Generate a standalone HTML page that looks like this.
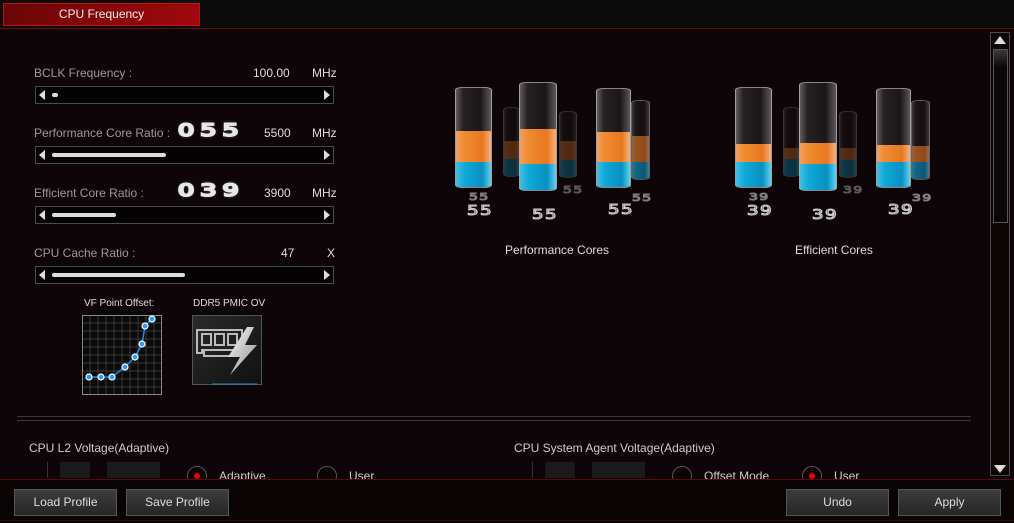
<!DOCTYPE html>
<html><head><meta charset="utf-8"><style>
*{margin:0;padding:0;box-sizing:border-box}
body{width:1014px;height:523px;background:#0d0507;position:relative;overflow:hidden;font-family:"Liberation Sans",Arial,sans-serif;color:#b8b8b8}
.a{position:absolute}
.t{position:absolute;font-size:12px;white-space:nowrap}
.sl{position:absolute;left:35px;width:299px;height:18px;border:1px solid #4a4a4a;background:#050203}
.sl .l{position:absolute;left:3px;top:3px;width:0;height:0;border-top:5px solid transparent;border-bottom:5px solid transparent;border-right:6px solid #ddd}
.sl .r{position:absolute;right:3px;top:3px;width:0;height:0;border-top:5px solid transparent;border-bottom:5px solid transparent;border-left:6px solid #ddd}
.sl .b{position:absolute;left:16px;top:6px;height:4px;background:#ddd;border-radius:2px}
.big{position:absolute;font-family:"DejaVu Sans",sans-serif;font-size:17px;color:#0d0507;-webkit-text-stroke:2px #e8e8e8;letter-spacing:4px;transform:scaleX(1.5);transform-origin:left;text-shadow:0 0 3px rgba(255,255,255,.6)}
.cyl{position:absolute;border-radius:7px/3px;background:linear-gradient(90deg,rgba(200,200,200,.45),rgba(90,90,90,.35) 20%,rgba(60,60,60,.3) 70%,rgba(190,190,190,.45));border:1px solid rgba(220,220,220,.55);overflow:hidden}
.cyl .o{position:absolute;left:0;right:0;background:linear-gradient(90deg,#f0a060,#f08a30 25%,#e87820 75%,#f4b080)}
.cyl .bl{position:absolute;left:0;right:0;bottom:0;background:linear-gradient(90deg,#40c0e0,#10a8d8 25%,#0890c0 75%,#60d0f0)}
.cyl.bk{opacity:.3}
.num{position:absolute;font-family:"DejaVu Sans",sans-serif;color:#0d0507;-webkit-text-stroke:1px #cfcfcf;letter-spacing:1px;transform:scaleX(1.4);transform-origin:left}
.btn{position:absolute;top:489px;height:27px;background:linear-gradient(#3c3c3c,#262626);border:1px solid #555;color:#ddd;font-size:12px;text-align:center;line-height:25px}
.rad{position:absolute;width:20px;height:20px;border-radius:50%;border:1px solid #555;background:#0a0405}
</style></head><body>
<div class="a" style="left:0;top:0;width:1014px;height:28px;background:#0b0b0b"></div>
<div class="a" style="left:3px;top:3px;width:197px;height:23px;background:linear-gradient(90deg,#6a0608,#a0080c);border:1px solid #c01010;color:#eee;font-size:12px;text-align:center;line-height:21px">CPU Frequency</div>
<div class="a" style="left:0;top:28px;width:1014px;height:1px;background:#6a0a0c"></div>

<div class="t" style="left:34px;top:66px;color:#999">BCLK Frequency :</div>
<div class="t" style="left:253px;top:66px;color:#ddd">100.00</div>
<div class="t" style="left:312px;top:66px;color:#ddd">MHz</div>
<div class="sl" style="top:86px"><div class="l"></div><div class="r"></div><div class="b" style="width:6px"></div></div>

<div class="t" style="left:34px;top:126px;color:#999">Performance Core Ratio :</div>
<div class="big" style="left:178px;top:121px">055</div>
<div class="t" style="left:264px;top:126px;color:#ddd">5500</div>
<div class="t" style="left:312px;top:126px;color:#ddd">MHz</div>
<div class="sl" style="top:146px"><div class="l"></div><div class="r"></div><div class="b" style="width:114px"></div></div>

<div class="t" style="left:34px;top:186px;color:#999">Efficient Core Ratio :</div>
<div class="big" style="left:178px;top:181px">039</div>
<div class="t" style="left:264px;top:186px;color:#ddd">3900</div>
<div class="t" style="left:312px;top:186px;color:#ddd">MHz</div>
<div class="sl" style="top:206px"><div class="l"></div><div class="r"></div><div class="b" style="width:64px"></div></div>

<div class="t" style="left:34px;top:246px;color:#999">CPU Cache Ratio :</div>
<div class="t" style="left:281px;top:246px;color:#ddd">47</div>
<div class="t" style="left:327px;top:246px;color:#ddd">X</div>
<div class="sl" style="top:266px"><div class="l"></div><div class="r"></div><div class="b" style="width:133px"></div></div>

<div class="t" style="left:84px;top:298px;font-size:10px;color:#ddd">VF Point Offset:</div>
<svg class="a" style="left:82px;top:315px" width="80" height="80">
<rect x="0.5" y="0.5" width="79" height="79" fill="#0a0a0a" stroke="#888"/>
<g stroke="#3a3a3a" stroke-width="1">
<path d="M8 1V79M16 1V79M24 1V79M32 1V79M40 1V79M48 1V79M56 1V79M64 1V79M72 1V79M1 8H79M1 16H79M1 24H79M1 32H79M1 40H79M1 48H79M1 56H79M1 64H79M1 72H79"/></g>
<polyline points="7,62 19,62 30,62 43,52 53,42 60,29 63,11 70,4" fill="none" stroke="#1a8ae8" stroke-width="1.5"/>
<g fill="#2a9cff" stroke="#fff" stroke-width="1.2">
<circle cx="7" cy="62" r="3"/><circle cx="19" cy="62" r="3"/><circle cx="30" cy="62" r="3"/><circle cx="43" cy="52" r="3"/><circle cx="53" cy="42" r="3"/><circle cx="60" cy="29" r="3"/><circle cx="63" cy="11" r="3"/><circle cx="70" cy="4" r="3"/></g></svg>

<div class="t" style="left:193px;top:298px;font-size:10px;color:#ddd">DDR5 PMIC OV</div>
<svg class="a" style="left:192px;top:315px" width="70" height="70">
<defs><linearGradient id="g" x1="0" y1="0" x2="1" y2="1"><stop offset="0" stop-color="#2a2a2a"/><stop offset="1" stop-color="#111"/></linearGradient>
<linearGradient id="bolt" x1="0" y1="0" x2="1" y2="1"><stop offset="0" stop-color="#fff"/><stop offset="1" stop-color="#888"/></linearGradient></defs>
<rect x="0.5" y="0.5" width="69" height="69" fill="url(#g)" stroke="#555"/>
<line x1="20" y1="69" x2="65" y2="69" stroke="#2a8ab0"/>
<g fill="none" stroke="#bbb" stroke-width="2"><path d="M5 15H50V35H10V38H5Z"/><rect x="10" y="19" width="9" height="11"/><rect x="23" y="19" width="9" height="11"/><rect x="36" y="19" width="9" height="11"/><path d="M12 35V41H40"/></g>
<path d="M55 12L36 42H48L38 60L65 30H53L62 12Z" fill="url(#bolt)"/></svg>

<!-- Performance cores -->
<div class="cyl bk" style="left:503px;top:107px;width:17px;height:70px"><div class="o" style="top:33px;bottom:17px"></div><div class="bl" style="height:17px"></div></div>
<div class="cyl bk" style="left:559px;top:111px;width:18px;height:67px"><div class="o" style="top:29px;bottom:17px"></div><div class="bl" style="height:17px"></div></div>
<div class="cyl" style="left:631px;top:100px;width:19px;height:80px;opacity:.6"><div class="o" style="top:35px;bottom:17px"></div><div class="bl" style="height:17px"></div></div>
<div class="cyl" style="left:455px;top:87px;width:37px;height:101px"><div class="o" style="top:43px;bottom:25px"></div><div class="bl" style="height:25px"></div></div>
<div class="cyl" style="left:519px;top:82px;width:38px;height:109px"><div class="o" style="top:46px;bottom:26px"></div><div class="bl" style="height:26px"></div></div>
<div class="cyl" style="left:596px;top:88px;width:35px;height:100px"><div class="o" style="top:43px;bottom:25px"></div><div class="bl" style="height:25px"></div></div>
<div class="num" style="left:469px;top:192px;font-size:10px;opacity:.6">55</div>
<div class="num" style="left:563px;top:185px;font-size:10px;opacity:.4">55</div>
<div class="num" style="left:632px;top:193px;font-size:10px;opacity:.6">55</div>
<div class="num" style="left:467px;top:204px;font-size:13px">55</div>
<div class="num" style="left:532px;top:208px;font-size:13px">55</div>
<div class="num" style="left:608px;top:203px;font-size:13px">55</div>
<div class="t" style="left:505px;top:243px;color:#ddd">Performance Cores</div>

<!-- Efficient cores -->
<div class="cyl bk" style="left:783px;top:107px;width:17px;height:70px"><div class="o" style="top:40px;bottom:17px"></div><div class="bl" style="height:17px"></div></div>
<div class="cyl bk" style="left:839px;top:111px;width:18px;height:67px"><div class="o" style="top:36px;bottom:17px"></div><div class="bl" style="height:17px"></div></div>
<div class="cyl" style="left:911px;top:100px;width:19px;height:80px;opacity:.6"><div class="o" style="top:45px;bottom:17px"></div><div class="bl" style="height:17px"></div></div>
<div class="cyl" style="left:735px;top:87px;width:37px;height:101px"><div class="o" style="top:56px;bottom:25px"></div><div class="bl" style="height:25px"></div></div>
<div class="cyl" style="left:799px;top:82px;width:38px;height:109px"><div class="o" style="top:60px;bottom:26px"></div><div class="bl" style="height:26px"></div></div>
<div class="cyl" style="left:876px;top:88px;width:35px;height:100px"><div class="o" style="top:56px;bottom:25px"></div><div class="bl" style="height:25px"></div></div>
<div class="num" style="left:749px;top:192px;font-size:10px;opacity:.6">39</div>
<div class="num" style="left:843px;top:185px;font-size:10px;opacity:.4">39</div>
<div class="num" style="left:912px;top:193px;font-size:10px;opacity:.6">39</div>
<div class="num" style="left:747px;top:204px;font-size:13px">39</div>
<div class="num" style="left:812px;top:208px;font-size:13px">39</div>
<div class="num" style="left:888px;top:203px;font-size:13px">39</div>
<div class="t" style="left:795px;top:243px;color:#ddd">Efficient Cores</div>

<div class="a" style="left:17px;top:416px;width:954px;height:1px;background:#3a3a3e"></div>
<div class="a" style="left:17px;top:420px;width:954px;height:1px;background:#3a3a3e"></div>

<div class="t" style="left:29px;top:441px;color:#ccc">CPU L2 Voltage(Adaptive)</div>
<div class="a" style="left:47px;top:462px;width:1px;height:16px;background:#333"></div>
<div class="a" style="left:60px;top:462px;width:30px;height:16px;background:#1a1a1a"></div>
<div class="a" style="left:107px;top:462px;width:53px;height:16px;background:#1a1a1a"></div>
<div class="rad" style="left:187px;top:466px"><div class="a" style="left:6px;top:6px;width:6px;height:6px;border-radius:50%;background:#e00"></div></div>
<div class="t" style="left:219px;top:469px;color:#ccc">Adaptive</div>
<div class="rad" style="left:317px;top:466px"></div>
<div class="t" style="left:349px;top:469px;color:#ccc">User</div>

<div class="t" style="left:514px;top:441px;color:#ccc">CPU System Agent Voltage(Adaptive)</div>
<div class="a" style="left:532px;top:462px;width:1px;height:16px;background:#333"></div>
<div class="a" style="left:545px;top:462px;width:30px;height:16px;background:#1a1a1a"></div>
<div class="a" style="left:592px;top:462px;width:53px;height:16px;background:#1a1a1a"></div>
<div class="rad" style="left:672px;top:466px"></div>
<div class="t" style="left:704px;top:469px;color:#ccc">Offset Mode</div>
<div class="rad" style="left:802px;top:466px"><div class="a" style="left:6px;top:6px;width:6px;height:6px;border-radius:50%;background:#e00"></div></div>
<div class="t" style="left:834px;top:469px;color:#ccc">User</div>

<!-- scrollbar -->
<div class="a" style="left:990px;top:32px;width:20px;height:444px;border:1px solid #4a4a4a;background:#0b0506"></div>
<div class="a" style="left:994px;top:36px;width:0;height:0;border-left:6px solid transparent;border-right:6px solid transparent;border-bottom:8px solid #ddd"></div>
<div class="a" style="left:993px;top:49px;width:15px;height:174px;border:1px solid #555;background:linear-gradient(#3a3a3a,#0c0607 10%)"></div>
<div class="a" style="left:994px;top:465px;width:0;height:0;border-left:6px solid transparent;border-right:6px solid transparent;border-top:8px solid #ddd"></div>

<!-- bottom bar -->
<div class="a" style="left:0;top:479px;width:1014px;height:44px;background:#0a0304;border-top:1px solid #5a0a0c"></div>
<div class="a" style="left:0;top:520px;width:1014px;height:1px;background:#3a0608"></div>
<div class="btn" style="left:14px;width:103px">Load Profile</div>
<div class="btn" style="left:126px;width:103px">Save Profile</div>
<div class="btn" style="left:786px;width:103px">Undo</div>
<div class="btn" style="left:898px;width:103px">Apply</div>
</body></html>
